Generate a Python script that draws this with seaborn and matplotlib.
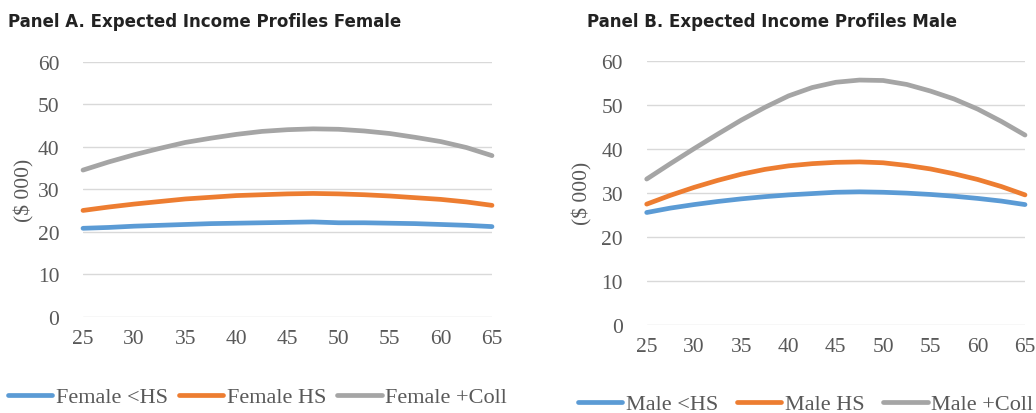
import matplotlib
matplotlib.use("Agg")
import matplotlib.pyplot as plt
import seaborn as sns
import pandas as pd

ages = [25, 27.5, 30, 32.5, 35, 37.5, 40, 42.5, 45, 47.5, 50, 52.5, 55, 57.5, 60, 62.5, 65]

female_lths = [20.8, 21.0, 21.3, 21.5, 21.7, 21.9, 22.0, 22.1, 22.2, 22.3, 22.1, 22.1, 22.0, 21.9, 21.7, 21.5, 21.2]
female_hs = [25.0, 25.8, 26.5, 27.1, 27.7, 28.1, 28.5, 28.7, 28.9, 29.0, 28.9, 28.7, 28.4, 28.0, 27.6, 27.0, 26.2]
female_coll = [34.5, 36.4, 38.1, 39.6, 41.0, 42.0, 42.9, 43.6, 44.0, 44.2, 44.1, 43.7, 43.1, 42.2, 41.2, 39.8, 37.9]

male_lths = [25.5, 26.5, 27.3, 28.0, 28.6, 29.1, 29.5, 29.8, 30.1, 30.2, 30.1, 29.9, 29.6, 29.2, 28.7, 28.1, 27.3]
male_hs = [27.4, 29.4, 31.2, 32.8, 34.2, 35.3, 36.1, 36.6, 36.9, 37.0, 36.8, 36.2, 35.4, 34.3, 33.0, 31.4, 29.5]
male_coll = [33.1, 36.6, 40.0, 43.3, 46.5, 49.4, 52.0, 53.9, 55.1, 55.6, 55.5, 54.6, 53.1, 51.3, 49.0, 46.2, 43.1]

female_labels = ["Female <HS", "Female HS", "Female +Coll"]
male_labels = ["Male <HS", "Male HS", "Male +Coll"]
titles = ["Panel A. Expected Income Profiles Female", "Panel B. Expected Income Profiles Male"]
ylabel = "($ 000)"
yticks = [0, 10, 20, 30, 40, 50, 60]
xticks = [25, 30, 35, 40, 45, 50, 55, 60, 65]
colors = ["#5B9BD5", "#ED7D31", "#A5A5A5"]

sns.set_theme(style="white")
plt.rcParams["font.family"] = ["Liberation Serif", "DejaVu Serif"]

def long_df(labels, series):
    rows = []
    for lab, vals in zip(labels, series):
        for a, v in zip(ages, vals):
            rows.append({"age": a, "value": v, "series": lab})
    return pd.DataFrame(rows)

W, H = 1036, 414
fig = plt.figure(figsize=(W / 100, H / 100), dpi=100)
axA = fig.add_axes([83 / W, 1 - 317.7 / H, (492 - 83) / W, (317.7 - 62.7) / H])
axB = fig.add_axes([646.7 / W, 1 - 325.7 / H, (1025 - 646.7) / W, (325.7 - 61.7) / H])

panels = [
    (axA, long_df(female_labels, [female_lths, female_hs, female_coll]), female_labels,
     titles[0], 8 / W, 24 / W, (8 / W, 1 - 398 / H), 0.5),
    (axB, long_df(male_labels, [male_lths, male_hs, male_coll]), male_labels,
     titles[1], 587 / W, 582 / W, (578 / W, 1 - 405 / H), 0.85),
]

for ax, df, labels, title, tx, ylx, legpos, colsp in panels:
    sns.lineplot(data=df, x="age", y="value", hue="series", hue_order=labels,
                 palette=colors, linewidth=3.4, ax=ax, legend=False, clip_on=False)
    ax.set_xlim(25, 65)
    ax.set_ylim(0, 60)
    ax.set_xticks(xticks)
    ax.set_yticks(yticks)
    ax.yaxis.grid(True, color="#D9D9D9", linewidth=1.0)
    ax.set_axisbelow(True)
    ax.xaxis.grid(False)
    for s in ax.spines.values():
        s.set_visible(False)
    ax.tick_params(axis="both", length=0, labelsize=15.5, labelcolor="#595959")
    ax.tick_params(axis="y", pad=17)
    ax.tick_params(axis="x", pad=9)
    ax.set_xlabel("")
    ax.set_ylabel("")
    pos = ax.get_position()
    fig.text(ylx, (pos.y0 + pos.y1) / 2, ylabel, rotation=90, ha="center", va="center",
             fontsize=15.5, color="#595959")
    fig.text(tx, 1 - 22 / H, title, ha="left", va="center", fontsize=13.3,
             fontweight="bold", fontstretch="condensed", color="#222222",
             family=["DejaVu Sans"])
    handles = [plt.Line2D([0], [0], color=c, linewidth=3.4) for c in colors]
    fig.legend(handles, labels, loc="center left", bbox_to_anchor=legpos, ncol=3,
               frameon=False, fontsize=16, handlelength=2.0, handletextpad=0.15,
               columnspacing=colsp, borderaxespad=0, borderpad=0,
               labelcolor="#595959")

fig.savefig("out.png", dpi=100)
